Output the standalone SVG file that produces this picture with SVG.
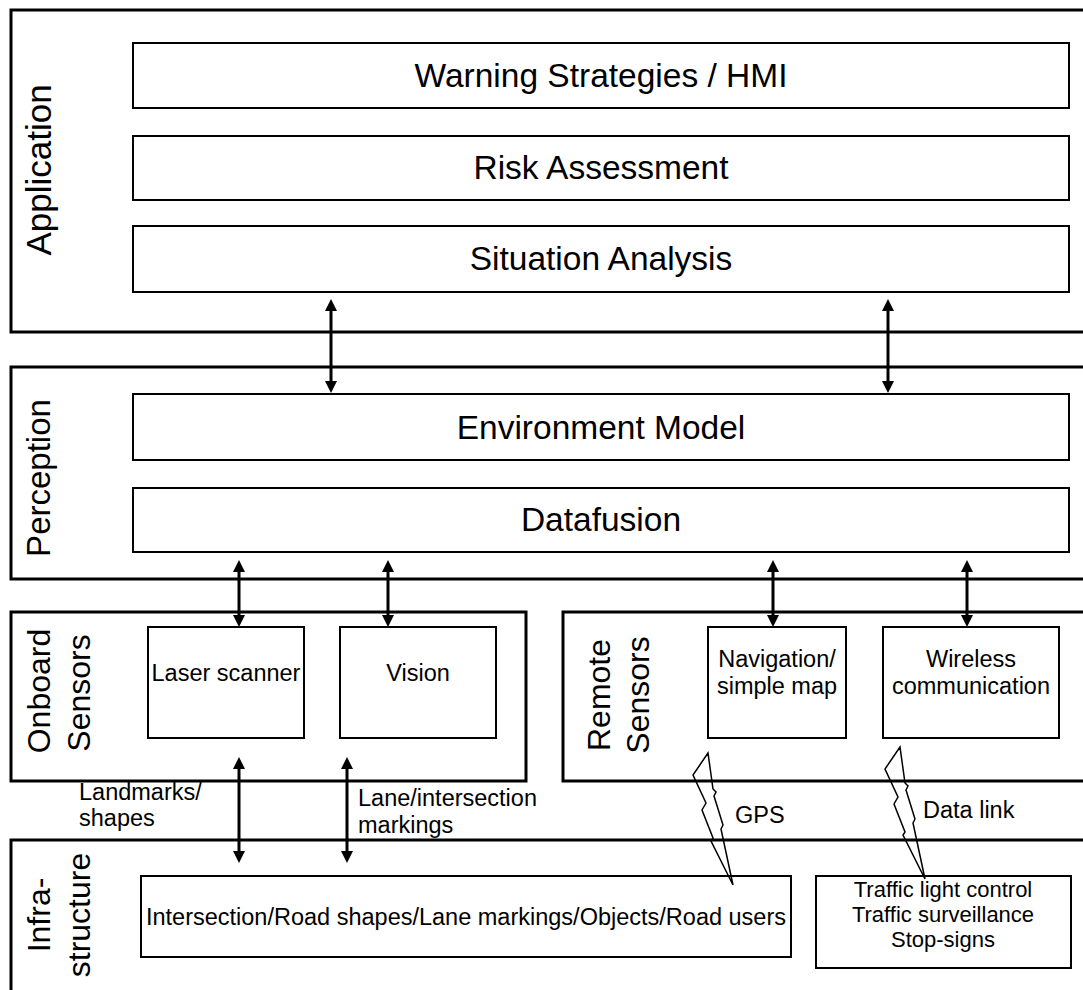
<svg xmlns="http://www.w3.org/2000/svg" width="1083" height="990" viewBox="0 0 1083 990">
  <style>
    .layer { fill: #fff; stroke: #000; stroke-width: 3; }
    .box { fill: #fff; stroke: #000; stroke-width: 2; }
    .big { font-family: "Liberation Sans", Arial, sans-serif; font-size: 33.5px; fill: #000; text-anchor: middle; }
    .side { font-family: "Liberation Sans", Arial, sans-serif; font-size: 32px; fill: #000; text-anchor: middle; }
    .small { font-family: "Liberation Sans", Arial, sans-serif; font-size: 23.5px; fill: #000; }
    .tight { font-size: 22px; }
    .mid { text-anchor: middle; }
    .arrow { stroke: #000; stroke-width: 3; fill: none; marker-start: url(#head); marker-end: url(#head); }
    .bolt { fill: none; stroke: #000; stroke-width: 1.5; stroke-linejoin: miter; }
  </style>
  <defs>
    <marker id="head" viewBox="0 0 12 12" refX="2" refY="6" markerWidth="12" markerHeight="12" markerUnits="userSpaceOnUse" orient="auto-start-reverse">
      <path d="M0,0 L12,6 L0,12 z" fill="#000"/>
    </marker>
    <path id="boltShape" d="M0,0 L-15,22 L-2,50 L-6,57 L5,85 L3,88 L25,132 L13,76 L15,72 L6,43 L8,39 L5,36 Z"/>
  </defs>

  <rect width="1083" height="990" fill="#fff"/>

  <!-- Application layer -->
  <g id="application">
    <rect class="layer" x="11" y="10" width="1090" height="322"/>
    <text class="side" style="font-size:35px" transform="translate(51,170) rotate(-90)">Application</text>
  </g>
  <g id="warning">
    <rect class="box" x="133" y="43" width="936" height="65"/>
    <text class="big" x="601" y="87">Warning Strategies / HMI</text>
  </g>
  <g id="risk">
    <rect class="box" x="133" y="136" width="936" height="64"/>
    <text class="big" x="601" y="179">Risk Assessment</text>
  </g>
  <g id="situation">
    <rect class="box" x="133" y="226" width="936" height="66"/>
    <text class="big" x="601" y="270">Situation Analysis</text>
  </g>

  <!-- Perception layer -->
  <g id="perception">
    <rect class="layer" x="11" y="367" width="1090" height="212"/>
    <text class="side" style="font-size:33px" transform="translate(50,478) rotate(-90)">Perception</text>
  </g>
  <g id="environment">
    <rect class="box" x="133" y="394" width="936" height="66"/>
    <text class="big" x="601" y="439">Environment Model</text>
  </g>
  <g id="datafusion">
    <rect class="box" x="133" y="488" width="936" height="64"/>
    <text class="big" x="601" y="531">Datafusion</text>
  </g>

  <!-- Sensor layers -->
  <g id="onboard">
    <rect class="layer" x="11" y="612" width="515" height="169"/>
    <text class="side" transform="translate(50,691) rotate(-90)">Onboard</text>
    <text class="side" transform="translate(90,693) rotate(-90)">Sensors</text>
  </g>
  <g id="laser">
    <rect class="box" x="148" y="627" width="156" height="111"/>
    <text class="small mid" x="226" y="681">Laser scanner</text>
  </g>
  <g id="vision">
    <rect class="box" x="340" y="627" width="156" height="111"/>
    <text class="small mid" x="418" y="681">Vision</text>
  </g>
  <g id="remote">
    <rect class="layer" x="563" y="612" width="540" height="169"/>
    <text class="side" transform="translate(610,695) rotate(-90)">Remote</text>
    <text class="side" transform="translate(649,695) rotate(-90)">Sensors</text>
  </g>
  <g id="navigation">
    <rect class="box" x="708" y="627" width="138" height="111"/>
    <text class="small mid" x="777" y="667">Navigation/</text>
    <text class="small mid" x="777" y="694">simple map</text>
  </g>
  <g id="wireless">
    <rect class="box" x="883" y="627" width="176" height="111"/>
    <text class="small mid" x="971" y="667">Wireless</text>
    <text class="small mid" x="971" y="694">communication</text>
  </g>

  <!-- Infrastructure layer -->
  <g id="infrastructure">
    <rect class="layer" x="11" y="840" width="1090" height="170"/>
    <text class="side" transform="translate(50,915) rotate(-90)">Infra-</text>
    <text class="side" transform="translate(90,915) rotate(-90)">structure</text>
  </g>
  <g id="road">
    <rect class="box" x="141" y="876" width="650" height="81"/>
    <text class="small mid" x="466" y="925">Intersection/Road shapes/Lane markings/Objects/Road users</text>
  </g>
  <g id="traffic">
    <rect class="box" x="816" y="876" width="255" height="92"/>
    <text class="small tight mid" x="943" y="897">Traffic light control</text>
    <text class="small tight mid" x="943" y="922">Traffic surveillance</text>
    <text class="small tight mid" x="943" y="947">Stop-signs</text>
  </g>

  <!-- Connectors -->
  <g id="connectors">
    <line class="arrow" x1="331" y1="309" x2="331" y2="383"/>
    <line class="arrow" x1="888" y1="309" x2="888" y2="383"/>
    <line class="arrow" x1="239" y1="570" x2="239" y2="617"/>
    <line class="arrow" x1="388" y1="570" x2="388" y2="617"/>
    <line class="arrow" x1="773" y1="570" x2="773" y2="617"/>
    <line class="arrow" x1="967" y1="570" x2="967" y2="617"/>
    <line class="arrow" x1="239" y1="767" x2="239" y2="853"/>
    <line class="arrow" x1="347" y1="767" x2="347" y2="853"/>
    <use href="#boltShape" class="bolt" transform="translate(708,753)"/>
    <use href="#boltShape" class="bolt" transform="translate(900,747)"/>
  </g>

  <!-- Connector labels -->
  <g id="labels">
    <text class="small" x="79" y="800">Landmarks/</text>
    <text class="small" x="79" y="826">shapes</text>
    <text class="small" x="358" y="806">Lane/intersection</text>
    <text class="small" x="358" y="833">markings</text>
    <text class="small" x="735" y="823">GPS</text>
    <text class="small" x="923" y="818">Data link</text>
  </g>
</svg>
